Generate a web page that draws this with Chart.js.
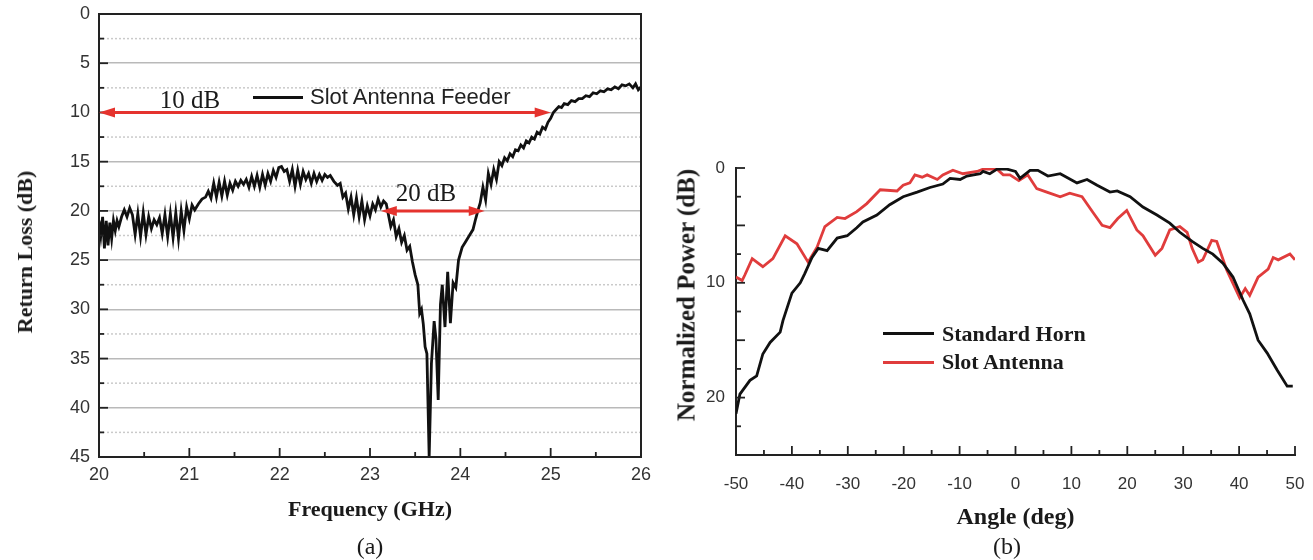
<!DOCTYPE html>
<html>
<head>
<meta charset="utf-8">
<script src="https://cdn.jsdelivr.net/npm/chart.js@4.4.1/dist/chart.umd.min.js"></script>
<style>
  body { margin: 0; background: #fff; }
  #wrap { position: relative; width: 1313px; height: 560px; overflow: hidden; color: #1a1a1a; font-family: "Liberation Serif", serif; }
  canvas { position: absolute; top: 0; }
  .txt { position: absolute; white-space: nowrap; line-height: 1; transform: translate(-50%, -50%); }
  .left { transform: translate(0, -50%); }
  .rot { transform: translate(-50%, -50%) rotate(-90deg); }
  .bold { font-weight: bold; }
  .key { position: absolute; height: 3px; }
</style>
</head>
<body>
<div id="wrap">
  <canvas id="rlChart" width="660" height="560" style="left:0"></canvas>
  <canvas id="patChart" width="653" height="560" style="left:660px"></canvas>

  <div class="txt rot bold" style="left:25px; top:252px; font-size:22px">Return Loss (dB)</div>
  <div class="txt" style="left:190px; top:99px; font-size:25px">10 dB</div>
  <div class="txt" style="left:426px; top:192px; font-size:25px">20 dB</div>
  <div class="key" style="left:253px; top:96px; width:50px; background:#111"></div>
  <div class="txt left" style="left:310px; top:97px; font-size:22px; font-family:'Liberation Sans', sans-serif; color:#222">Slot Antenna Feeder</div>
  <div class="txt" style="left:370px; top:546px; font-size:24px">(a)</div>

  <div class="txt rot bold" style="left:686px; top:295px; font-size:25px">Normalized Power (dB)</div>
  <div class="key" style="left:883px; top:332px; width:51px; background:#111"></div>
  <div class="txt left bold" style="left:942px; top:334px; font-size:22px">Standard Horn</div>
  <div class="key" style="left:883px; top:361px; width:51px; background:#e03c3c"></div>
  <div class="txt left bold" style="left:942px; top:362px; font-size:22px">Slot Antenna</div>
  <div class="txt" style="left:1007px; top:546px; font-size:24px">(b)</div>
</div>
<script>
// (a) return loss of the slot antenna feeder
const freqGHz = [
  20.00, 20.02, 20.04, 20.06, 20.08, 20.10, 20.12, 20.14, 20.16, 20.18, 20.20, 20.22, 20.25, 20.28, 20.31, 20.34, 20.37,
  20.40, 20.43, 20.46, 20.49, 20.52, 20.55, 20.58, 20.61, 20.64, 20.67, 20.70, 20.73, 20.76, 20.79, 20.82, 20.85, 20.88,
  20.91, 20.94, 20.97, 21.00, 21.03, 21.06, 21.10, 21.14, 21.18, 21.21, 21.24, 21.27, 21.30, 21.33, 21.36, 21.39, 21.42,
  21.45, 21.48, 21.51, 21.54, 21.57, 21.60, 21.63, 21.66, 21.69, 21.72, 21.75, 21.78, 21.81, 21.84, 21.87, 21.90, 21.93,
  21.96, 21.99, 22.02, 22.05, 22.08, 22.11, 22.14, 22.17, 22.20, 22.23, 22.26, 22.29, 22.32, 22.35, 22.38, 22.41, 22.44,
  22.47, 22.50, 22.53, 22.56, 22.60, 22.64, 22.67, 22.70, 22.73, 22.76, 22.79, 22.82, 22.85, 22.88, 22.91, 22.94, 22.97,
  23.00, 23.03, 23.06, 23.09, 23.12, 23.15, 23.18, 23.20, 23.23, 23.26, 23.29, 23.32, 23.35, 23.38, 23.41, 23.44, 23.47,
  23.50, 23.53, 23.55, 23.57, 23.59, 23.61, 23.63, 23.655, 23.68, 23.71, 23.73, 23.755, 23.78, 23.80, 23.83, 23.86, 23.89,
  23.92, 23.95, 23.98, 24.02, 24.06, 24.10, 24.14, 24.17, 24.20, 24.22, 24.25, 24.28, 24.31, 24.34, 24.37, 24.40, 24.43,
  24.46, 24.49, 24.52, 24.55, 24.58, 24.61, 24.64, 24.67, 24.70, 24.73, 24.76, 24.79, 24.82, 24.85, 24.88, 24.91, 24.94,
  24.97, 25.00, 25.03, 25.06, 25.09, 25.12, 25.15, 25.19, 25.23, 25.27, 25.31, 25.35, 25.39, 25.43, 25.47, 25.51, 25.55,
  25.59, 25.63, 25.67, 25.71, 25.75, 25.79, 25.83, 25.87, 25.91, 25.94, 25.97, 26.00
];
const returnLossDB = [
  21.0, 22.5, 20.6, 23.8, 21.0, 23.5, 21.2, 22.8, 21.0, 22.0, 21.0, 21.6, 20.6, 19.9, 20.6, 19.7, 20.4,
  22.4, 20.3, 22.6, 20.2, 22.4, 20.6, 21.8, 20.9, 21.4, 20.7, 22.3, 20.4, 22.6, 20.3, 22.7, 20.2, 22.8,
  20.0, 22.0, 19.6, 20.8, 19.4, 19.9, 19.3, 18.8, 18.6, 18.0, 18.7, 17.2, 18.6, 17.1, 18.5, 17.0, 18.4,
  17.2, 17.9, 17.0, 17.5, 16.9, 17.3, 16.8, 17.6, 16.5, 17.5, 16.4, 17.6, 16.3, 17.4, 16.2, 17.0, 15.9,
  16.6, 15.6, 15.5, 16.0, 15.8, 17.0, 15.8, 17.5, 15.9, 17.3, 16.0, 16.8, 16.2, 17.2, 16.2, 17.0, 16.3,
  16.9, 16.3, 16.6, 16.4, 17.0, 17.4, 17.2, 18.6, 18.2, 19.8, 18.6, 20.4, 18.7, 20.6, 19.0, 20.9, 19.5,
  20.5, 19.3, 19.9, 18.8, 19.6, 19.0, 19.3, 20.2, 21.6, 20.9, 22.6, 21.8, 23.2, 22.5, 24.0, 23.6, 25.2,
  26.5, 27.5, 30.4, 30.0, 31.5, 33.8, 34.5, 45.0, 35.5, 31.2, 33.0, 39.2, 29.5, 27.5, 31.8, 26.2, 31.4,
  27.3, 27.8, 25.0, 23.7, 23.1, 22.5, 21.9, 20.8, 19.8, 19.2, 17.6, 18.9, 16.2, 17.3, 15.8, 16.8, 15.0,
  15.4, 14.6, 14.9, 14.2, 14.5, 13.8, 13.9, 13.3, 13.6, 12.9, 13.1, 12.5, 12.7, 12.0, 12.2, 11.5, 11.7,
  11.0, 10.6, 10.0, 9.7, 9.4, 9.5, 9.1, 9.2, 8.8, 8.9, 8.6, 8.6, 8.3, 8.4, 8.0, 8.1, 7.8,
  7.9, 7.6, 7.7, 7.4, 7.6, 7.2, 7.3, 7.1, 7.5, 7.1, 7.7, 7.4
];
// red bandwidth arrows: level, start, end
const arrowLevelDB = [10, 20];
const arrowStartGHz = [20, 23.12];
const arrowEndGHz = [25, 24.27];

// (b) normalized radiation patterns
const angleHorn = [
  -50, -49.3, -47.5, -46.3, -45.2, -43.9, -42.1, -41.6, -40, -38.5, -37.7, -36.4, -35.3, -33.7, -31.9, -30.1,
  -28.4, -27.3, -24.8, -22.5, -20.1, -17.6, -15.3, -13, -11.7, -9.9, -8.7, -6.3, -5.8, -4.6, -3.3, -1.5,
  0, 0.8, 2.6, 4.0, 5.8, 8, 11, 12.8, 14.6, 16.9, 18.2, 20.5, 22.8, 25.3, 27.6, 29.4, 31.6, 33.5, 35.3,
  37.1, 38.9, 40.7, 41.9, 43.4, 45, 46.8, 48.6, 49.6
];
const hornDB = [
  21.4, 19.7, 18.5, 18.1, 16.2, 15.2, 14.3, 13.3, 10.9, 10.0, 9.2, 7.8, 7.0, 7.2, 6.1, 5.9,
  5.2, 4.7, 4.1, 3.2, 2.5, 2.1, 1.7, 1.4, 0.9, 1.0, 0.7, 0.5, 0.3, 0.5, 0.1, 0.1,
  0.3, 0.9, 0.2, 0.2, 0.7, 0.5, 1.3, 1.0, 1.5, 2.1, 2.0, 2.5, 3.4, 4.1, 4.8, 5.6, 6.4, 7.0, 7.5,
  8.3, 9.5, 11.5, 12.7, 15.0, 16.1, 17.6, 19.0, 19.0
];
const angleSlot = [
  -50, -48.9, -48.4, -47.1, -45.2, -43.4, -41.2, -39.1, -37.1, -35.5, -34.1, -31.9, -30.5, -28.4, -26.6, -24.2,
  -21.2, -20.1, -18.9, -18, -16.7, -15.8, -14, -13, -11.2, -9.4, -6.9, -5.8, -3.3, -2.2, -1, 0.6,
  2.2, 3.8, 5.6, 8, 9.7, 11.9, 13.9, 15.5, 16.9, 18.3, 19.9, 21.7, 22.8, 25, 26.2, 27.6, 29.4, 30.7,
  31.6, 32.7, 33.5, 35.1, 36, 37.8, 40.1, 41.1, 41.9, 43.4, 45.2, 46.1, 47, 49.1, 50
];
const slotDB = [
  9.5, 9.8, 9.3, 7.9, 8.6, 7.9, 5.9, 6.6, 8.2, 6.9, 5.1, 4.3, 4.4, 3.8, 3.1, 1.9,
  2.0, 1.5, 1.3, 0.6, 0.8, 0.6, 1.0, 0.6, 0.2, 0.5, 0.3, 0.1, 0.1, 0.6, 0.6, 1.1,
  0.6, 1.8, 2.1, 2.5, 2.2, 2.5, 3.9, 5.0, 5.2, 4.4, 3.7, 5.4, 5.9, 7.6, 7.0, 5.4, 5.1, 5.6,
  7.0, 8.2, 8.0, 6.3, 6.4, 8.9, 11.3, 10.5, 11.1, 9.5, 8.8, 7.8, 8.0, 7.5, 8.0
];

Chart.defaults.font.family = "'Liberation Sans', Arial, sans-serif";
Chart.defaults.animation = false;

const xy = (xs, ys) => xs.map((v, i) => ({ x: v, y: ys[i] }));

function midpoints(scale) {
  const v = scale.ticks.map(t => t.value);
  return v.slice(1).map((b, i) => (v[i] + b) / 2);
}

// inward major/minor tick marks, dotted minor grid and the box frame
const axisMarks = {
  id: 'axisMarks',
  beforeDatasetsDraw(chart, args, o) {
    if (!o.minorGrid) return;
    const { ctx, chartArea: a } = chart;
    const ys = chart.scales.y;
    ctx.save();
    ctx.strokeStyle = '#cacaca';
    ctx.lineWidth = 1.5;
    ctx.setLineDash([2, 2]);
    midpoints(ys).forEach(v => {
      const p = ys.getPixelForValue(v);
      ctx.beginPath(); ctx.moveTo(a.left, p); ctx.lineTo(a.right, p); ctx.stroke();
    });
    ctx.restore();
  },
  afterDatasetsDraw(chart, args, o) {
    const { ctx, chartArea: a } = chart;
    const { x, y } = chart.scales;
    const mark = (x1, y1, x2, y2) => { ctx.beginPath(); ctx.moveTo(x1, y1); ctx.lineTo(x2, y2); ctx.stroke(); };
    ctx.save();
    ctx.strokeStyle = '#222';
    ctx.lineWidth = 1.8;
    x.ticks.forEach(t => { const p = x.getPixelForValue(t.value); mark(p, a.bottom, p, a.bottom - o.major); });
    midpoints(x).forEach(v => { const p = x.getPixelForValue(v); mark(p, a.bottom, p, a.bottom - o.minor); });
    y.ticks.forEach(t => { const p = y.getPixelForValue(t.value); mark(a.left, p, a.left + o.major, p); });
    midpoints(y).forEach(v => { const p = y.getPixelForValue(v); mark(a.left, p, a.left + o.minor, p); });
    if (o.frame) {
      ctx.lineWidth = 2;
      ctx.strokeRect(a.left, a.top, a.right - a.left, a.bottom - a.top);
    }
    ctx.restore();
  }
};

const bandArrows = {
  id: 'bandArrows',
  afterDatasetsDraw(chart) {
    const { ctx } = chart;
    const { x, y } = chart.scales;
    ctx.save();
    ctx.strokeStyle = '#e5332e';
    ctx.fillStyle = '#e5332e';
    ctx.lineWidth = 3;
    arrowLevelDB.forEach((lvl, i) => {
      const py = y.getPixelForValue(lvl);
      const x1 = x.getPixelForValue(arrowStartGHz[i]);
      const x2 = x.getPixelForValue(arrowEndGHz[i]);
      ctx.beginPath(); ctx.moveTo(x1 + 8, py); ctx.lineTo(x2 - 8, py); ctx.stroke();
      [[x1, 1], [x2, -1]].forEach(([tip, dir]) => {
        ctx.beginPath();
        ctx.moveTo(tip, py);
        ctx.lineTo(tip + dir * 16, py - 5);
        ctx.lineTo(tip + dir * 16, py + 5);
        ctx.closePath();
        ctx.fill();
      });
    });
    ctx.restore();
  }
};

const tickFont = size => ({ family: "'Liberation Sans', Arial, sans-serif", size });
const titleFont = size => ({ family: "'Liberation Serif', 'Times New Roman', serif", size, weight: 'bold' });

new Chart(document.getElementById('rlChart'), {
  type: 'line',
  data: {
    datasets: [{
      label: 'Slot Antenna Feeder',
      data: xy(freqGHz, returnLossDB),
      borderColor: '#111',
      borderWidth: 2.8,
      pointRadius: 0,
      tension: 0
    }]
  },
  options: {
    responsive: false,
    layout: { padding: { top: 14, right: 19, left: 0, bottom: 0 } },
    plugins: {
      legend: { display: false },
      tooltip: { enabled: false },
      axisMarks: { major: 9, minor: 5, minorGrid: true, frame: true }
    },
    scales: {
      x: {
        type: 'linear', min: 20, max: 26,
        ticks: { stepSize: 1, color: '#333', font: tickFont(18), padding: 7, maxRotation: 0 },
        grid: { drawOnChartArea: false, drawTicks: false },
        border: { color: '#222', width: 2 },
        title: { display: true, text: 'Frequency (GHz)', color: '#1a1a1a', font: titleFont(22), padding: { top: 0, bottom: 36 } },
        afterFit(s) { s.height = 103; s.paddingLeft = 0; s.paddingRight = 0; }
      },
      y: {
        type: 'linear', min: 0, max: 45, reverse: true,
        ticks: { stepSize: 5, color: '#333', font: tickFont(18), padding: 9 },
        grid: { color: '#b9b9b9', lineWidth: 1.5, drawTicks: false },
        border: { color: '#222', width: 2 },
        afterFit(s) { s.width = 99; s.paddingTop = 0; s.paddingBottom = 0; }
      }
    }
  },
  plugins: [axisMarks, bandArrows]
});

new Chart(document.getElementById('patChart'), {
  type: 'line',
  data: {
    datasets: [
      { label: 'Standard Horn', data: xy(angleHorn, hornDB), borderColor: '#111', borderWidth: 2.8, pointRadius: 0, tension: 0 },
      { label: 'Slot Antenna', data: xy(angleSlot, slotDB), borderColor: '#e03c3c', borderWidth: 2.8, pointRadius: 0, tension: 0 }
    ]
  },
  options: {
    responsive: false,
    layout: { padding: { top: 168, right: 18, left: 0, bottom: 0 } },
    plugins: {
      legend: { display: false },
      tooltip: { enabled: false },
      axisMarks: { major: 9, minor: 5, minorGrid: false, frame: false }
    },
    scales: {
      x: {
        type: 'linear', min: -50, max: 50,
        ticks: { stepSize: 10, color: '#333', font: tickFont(17), padding: 19, maxRotation: 0, autoSkip: false },
        grid: { display: false, drawTicks: false },
        border: { color: '#222', width: 2 },
        title: { display: true, text: 'Angle (deg)', color: '#1a1a1a', font: titleFont(24), padding: { top: 0, bottom: 28 } },
        afterFit(s) { s.height = 105; s.paddingLeft = 0; s.paddingRight = 0; }
      },
      y: {
        type: 'linear', min: 0, max: 25, reverse: true,
        ticks: { stepSize: 5, color: '#333', font: tickFont(17), padding: 11, callback: v => (v % 10 === 0 ? v : '') },
        grid: { display: false, drawTicks: false },
        border: { color: '#222', width: 2 },
        afterFit(s) { s.width = 76; s.paddingTop = 0; s.paddingBottom = 0; }
      }
    }
  },
  plugins: [axisMarks]
});
</script>
</body>
</html>
